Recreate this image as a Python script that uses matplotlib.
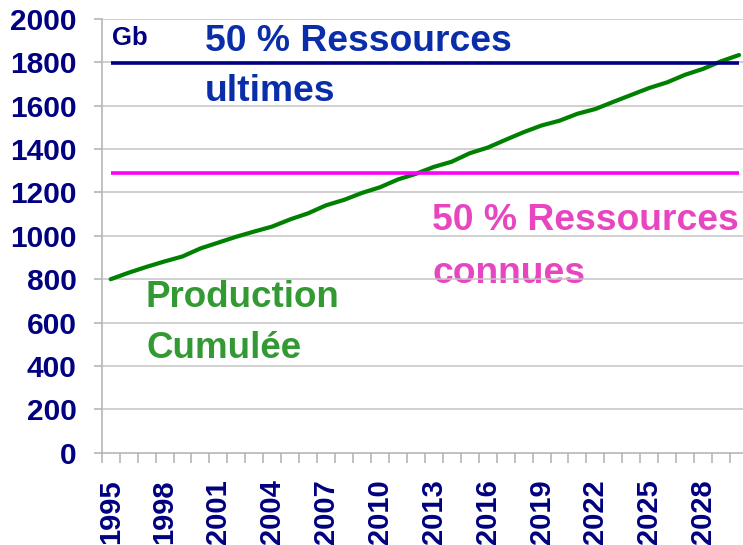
import matplotlib
matplotlib.use('Agg')
import matplotlib.pyplot as plt
import numpy as np
from matplotlib.ticker import FixedLocator

plt.rcParams['font.family'] = ['Liberation Sans', 'DejaVu Sans']

# ---- data ----
years = list(range(1995, 2031))
production_cumulee = [800, 830, 857, 882, 905, 942, 969, 996, 1020, 1043,
                      1076, 1104, 1141, 1166, 1198, 1224, 1260, 1286, 1318, 1342,
                      1381, 1407, 1443, 1478, 1509, 1531, 1563, 1585, 1618, 1650,
                      1682, 1708, 1743, 1770, 1805, 1834]
ressources_ultimes_50 = 1795
ressources_connues_50 = 1290
y_ticks = list(range(0, 2001, 200))
label_step = 3

NAVY = '#000080'
GRID = '#C4C4C4'

fig = plt.figure(figsize=(7.43, 5.45), dpi=100)
W, H = 743, 545
ax = fig.add_axes([101.7 / W, 92.3 / H, (748 - 101.7) / W, 433.7 / H])

x = np.arange(len(years))
ax.plot(x, production_cumulee, color='#008000', lw=3.0, zorder=3,
        solid_capstyle='round', solid_joinstyle='round')
ax.hlines(ressources_ultimes_50, x[0], x[-1], color=NAVY, lw=2.6, zorder=3)
ax.hlines(ressources_connues_50, x[0], x[-1], color='#FF00FF', lw=2.6, zorder=3)

ax.set_xlim(-0.5, len(years) - 0.5)
ax.set_ylim(0, 2000)
ax.set_yticks(y_ticks)
ax.set_yticklabels([str(v) for v in y_ticks])

major = x[::label_step]
ax.xaxis.set_major_locator(FixedLocator(major))
ax.set_xticklabels([str(years[i]) for i in major], rotation=90, va='top')
ax.xaxis.set_minor_locator(FixedLocator(np.arange(-0.5, len(years), 1.0)))
ax.tick_params(axis='x', which='major', length=0, pad=19, labelsize=21,
               labelcolor=NAVY)
ax.tick_params(axis='x', which='minor', length=7, width=1.1, color='#B0B0B0',
               direction='out')
ax.tick_params(axis='y', which='major', length=6, width=1.1, color='#B0B0B0',
               direction='out', pad=12, labelsize=21.5, labelcolor=NAVY)
for lab in ax.get_xticklabels() + ax.get_yticklabels():
    lab.set_fontweight('bold')

ax.set_axisbelow(False)
ax.yaxis.grid(True, color=GRID, lw=1.1, zorder=2.5)
ax.xaxis.grid(False)
for s in ['top', 'right']:
    ax.spines[s].set_visible(False)
for s in ['left', 'bottom']:
    ax.spines[s].set_color('#B0B0B0')
    ax.spines[s].set_linewidth(1.1)

def fx(px):
    return px / W

def fy(py):
    return 1 - py / H

tf = fig.transFigure
ax.text(fx(112), fy(45), 'Gb', transform=tf, fontsize=18.5, fontweight='bold',
        color=NAVY, va='baseline', ha='left', zorder=4,
        bbox=dict(facecolor='white', edgecolor='none', pad=3))
blue_txt = '#0A2DAA'
ax.text(fx(205), fy(51), '50 % Ressources', transform=tf, fontsize=26.8,
        fontweight='bold', color=blue_txt, va='baseline', zorder=1)
ax.text(fx(205), fy(101), 'ultimes', transform=tf, fontsize=26.8,
        fontweight='bold', color=blue_txt, va='baseline', zorder=1)
pink_txt = '#E845C0'
ax.text(fx(432), fy(230), '50 % Ressources', transform=tf, fontsize=26.8,
        fontweight='bold', color=pink_txt, va='baseline', zorder=1)
ax.text(fx(432), fy(283), 'connues', transform=tf, fontsize=26.8,
        fontweight='bold', color=pink_txt, va='baseline', zorder=1)
green_txt = '#339933'
ax.text(fx(146), fy(307), 'Production', transform=tf, fontsize=26.5,
        fontweight='bold', color=green_txt, va='baseline', zorder=1)
ax.text(fx(146), fy(358), 'Cumulée', transform=tf, fontsize=26.5,
        fontweight='bold', color=green_txt, va='baseline', zorder=1)

fig.savefig('out.png', dpi=100)
